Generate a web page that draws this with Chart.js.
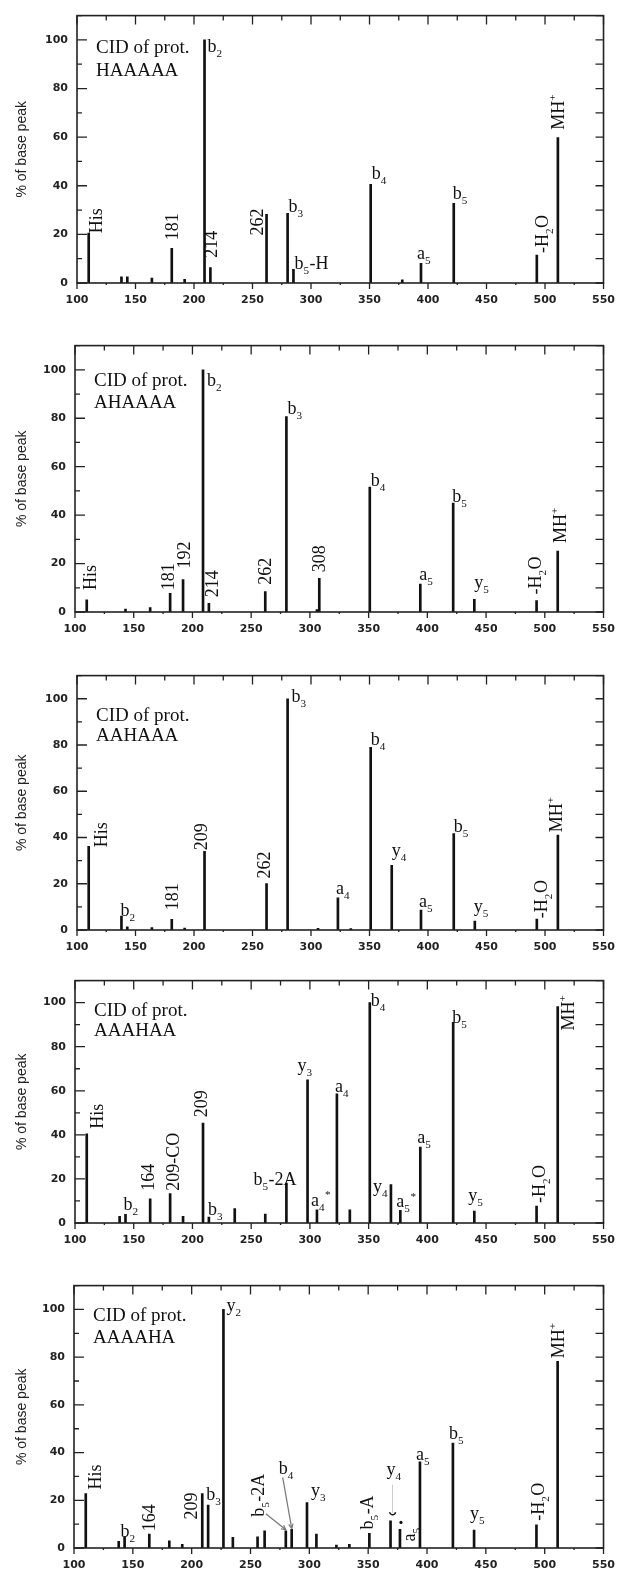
<!DOCTYPE html>
<html>
<head>
<meta charset="utf-8">
<script src="https://cdn.jsdelivr.net/npm/chart.js@4.4.1/dist/chart.umd.min.js"></script>
<style>
  body { margin: 0; background: #fff; width: 626px; height: 1574px; position: relative; overflow: hidden; }
  canvas { position: absolute; left: 0; }
</style>
</head>
<body>
<canvas id="p1"></canvas>
<canvas id="p2"></canvas>
<canvas id="p3"></canvas>
<canvas id="p4"></canvas>
<canvas id="p5"></canvas>
<script>
// ---- data: m/z and % of base peak for each spectrum ----
const sequences = ['HAAAAA', 'AHAAAA', 'AAHAAA', 'AAAHAA', 'AAAAHA'];

const mz1  = [110, 138, 143, 164, 181, 192, 209, 214, 262, 280, 285, 351, 378, 394, 422, 493, 511];
const int1 = [20.5, 2.5, 2.5, 2, 14.3, 1.5, 100, 6.3, 28.2, 28.7, 5.6, 40.6, 1.3, 8.1, 32.8, 11.5, 59.8];

const mz2  = [110, 143, 164, 181, 192, 209, 214, 262, 280, 306, 308, 351, 394, 422, 440, 493, 511];
const int2 = [5, 1.2, 1.8, 7.7, 13.4, 100, 3.6, 8.4, 80.7, 1, 13.9, 51.6, 11.5, 45, 5.2, 4.7, 25.2];

const mz3  = [110, 138, 143, 164, 181, 192, 209, 262, 280, 306, 323, 334, 351, 369, 394, 422, 440, 493, 511];
const int3 = [36.2, 6, 1.4, 1, 4.6, 0.8, 34, 20.1, 100, 0.7, 13.9, 0.6, 79, 28, 8.6, 41.7, 3.9, 4.7, 41];

const mz4  = [110, 138, 143, 164, 181, 192, 209, 214, 236, 262, 280, 298, 306, 323, 334, 351, 369, 377, 394, 422, 440, 493, 511];
const int4 = [40.5, 3, 3.9, 11, 13.3, 3, 45.3, 2.7, 6.5, 4, 18.1, 65, 6, 58.6, 6, 100, 17.4, 5.8, 34.4, 91.1, 5.4, 7.7, 98.2];

const mz5  = [110, 138, 143, 164, 181, 192, 209, 214, 227, 235, 256, 262, 280, 285, 298, 306, 323, 334, 351, 369, 377, 394, 422, 440, 493, 511];
const int5 = [22.8, 2.8, 4.7, 5.8, 3, 1.5, 22.8, 18, 100, 4.5, 4.7, 7.2, 7.2, 7.8, 19, 5.8, 1.2, 1.5, 6.1, 11.4, 7.8, 36.1, 44, 7.5, 9.7, 78.3];

// ---- peak annotations: [m/z, text, h|v, nudge x, nudge y]  (_ = subscript, ^ = superscript)
const notes1 = [
  [110, 'His', 'v', 7, 0], [181, '181', 'v', 0, -8], [209, 'b_2', 'h', 3, 12],
  [214, '214', 'v', 1, -10], [262, '262', 'v', -9, 21], [280, 'b_3', 'h', 1, -1],
  [285, 'b_5-H', 'h', 1, 0], [351, 'b_4', 'h', 1, -5], [394, 'a_5', 'h', -4, -4],
  [422, 'b_5', 'h', -1, -4], [493, '-H_2O', 'v', 5, -2], [511, 'MH^+', 'v', 0, -8]
];
const notes2 = [
  [110, 'His', 'v', 3, -10], [181, '181', 'v', -2, -3], [192, '192', 'v', 1, -11],
  [209, 'b_2', 'h', 4, 16], [214, '214', 'v', 3, -6], [262, '262', 'v', 0, -7],
  [280, 'b_3', 'h', 1, -3], [308, '308', 'v', 0, -6], [351, 'b_4', 'h', 1, -1],
  [394, 'a_5', 'h', -1, -4], [422, 'b_5', 'h', -1, -1], [440, 'y_5', 'h', 0, -11],
  [493, '-H_2O', 'v', -2, -6], [511, 'MH^+', 'v', 2, -8]
];
const notes3 = [
  [110, 'His', 'v', 12, 1], [138, 'b_2', 'h', -1, 0], [181, '181', 'v', 0, -9],
  [209, '209', 'v', -3, -1], [262, '262', 'v', -2, -5], [280, 'b_3', 'h', 4, 3],
  [323, 'a_4', 'h', -2, -4], [351, 'b_4', 'h', 0, -2], [369, 'y_4', 'h', 0, -9],
  [394, 'a_5', 'h', -2, -3], [422, 'b_5', 'h', 0, -2], [440, 'y_5', 'h', -1, -9],
  [493, '-H_2O', 'v', 4, -1], [511, 'MH^+', 'v', -2, -3]
];
const notes4 = [
  [110, 'His', 'v', 10, -5], [143, 'b_2', 'h', -2, -4], [164, '164', 'v', -2, -8],
  [181, '209-CO', 'v', 3, -3], [209, '209', 'v', -2, -6], [214, 'b_3', 'h', -1, -2],
  [280, 'b_5-2A', 'h', -33, 2], [298, 'y_3', 'h', -10, -9], [306, 'a_4^*', 'h', -6, -4],
  [323, 'a_4', 'h', -2, -2], [351, 'b_4', 'h', 1, 3], [369, 'y_4', 'h', -18, 7],
  [377, 'a_5^*', 'h', -4, -3], [394, 'a_5', 'h', -3, -4], [422, 'b_5', 'h', -1, 1],
  [440, 'y_5', 'h', -6, -10], [493, '-H_2O', 'v', 2, -3], [511, 'MH^+', 'v', 10, 24]
];
const notes5 = [
  [110, 'His', 'v', 9, -4], [143, 'b_2', 'h', -4, 0], [164, '164', 'v', 0, -3],
  [209, '209', 'v', -11, 26], [214, 'b_3', 'h', -2, -5], [227, 'y_2', 'h', 3, 2],
  [280, 'b_5-2A', 'v', -28, -14], [285, 'b_4', 'h', -13, -55], [298, 'y_3', 'h', 4, -7],
  [351, 'b_5-A', 'v', -2, -4], [369, 'y_4', 'h', -4, -46], [377, 'a_5', 'v', 9, 12],
  [394, 'a_5', 'h', -4, -2], [422, 'b_5', 'h', -4, -4], [440, 'y_5', 'h', -4, -11],
  [493, '-H_2O', 'v', 2, -4], [511, 'MH^+', 'v', 0, -3]
];
// leader arrows / marks in the last spectrum (offsets from the peak top)
const marks5 = [
  { mz: 280, kind: 'arrow', from: [-20, -17] },
  { mz: 285, kind: 'arrow', from: [-9, -52] },
  { mz: 369, kind: 'guide', from: [2, -36] },
  { mz: 377, kind: 'dot' }
];

// ---- panel boxes on the page ----
const boxes = [
  { top: 0,    h: 315, left: 77, right: 609, title: [37, 60] },
  { top: 330,  h: 314, left: 75, right: 612, title: [40, 62] },
  { top: 660,  h: 302, left: 77, right: 614, title: [45, 65] },
  { top: 965,  h: 290, left: 75, right: 612, title: [35, 55] },
  { top: 1270, h: 310, left: 74, right: 611, title: [35, 57] }
];

const SERIF = '"Liberation Serif", "Times New Roman", serif';
const INK = '#111';

function parseRich(s) {
  const out = [];
  let buf = '';
  for (let i = 0; i < s.length; i++) {
    const c = s[i];
    if (c === '_' || c === '^') {
      if (buf) out.push({ t: buf, m: 0 });
      buf = '';
      out.push({ t: s[i + 1], m: c === '_' ? 1 : 2 });
      i++;
    } else {
      buf += c;
    }
  }
  if (buf) out.push({ t: buf, m: 0 });
  return out;
}

function drawRich(ctx, s, x, y, size) {
  for (const p of parseRich(s)) {
    const fs = p.m ? size * 0.62 : size;
    ctx.font = fs + 'px ' + SERIF;
    const dy = p.m === 1 ? size * 0.28 : p.m === 2 ? -size * 0.42 : 0;
    ctx.fillText(p.t, x, y + dy);
    x += ctx.measureText(p.t).width + (p.m ? 0.5 : 0);
  }
}

const frameTicks = {
  id: 'frameTicks',
  afterDatasetsDraw(chart) {
    const { ctx, chartArea: a, scales: { x, y } } = chart;
    ctx.save();
    ctx.strokeStyle = '#222';
    ctx.lineWidth = 1.6;
    ctx.strokeRect(a.left, a.top, a.right - a.left, a.bottom - a.top);
    ctx.lineWidth = 1.3;
    ctx.beginPath();
    for (let v = 100; v <= 550; v += 25) {
      const px = x.getPixelForValue(v);
      const major = v % 50 === 0;
      // bottom: ticks hang below the axis, top: ticks point inward
      ctx.moveTo(px, a.bottom); ctx.lineTo(px, a.bottom + (major ? 6 : 2));
      ctx.moveTo(px, a.top); ctx.lineTo(px, a.top + (major ? 9 : 5));
    }
    for (let v = 0; v <= 110; v += 10) {
      const py = y.getPixelForValue(v);
      const len = v % 20 === 0 ? 10 : 5;
      ctx.moveTo(a.left, py); ctx.lineTo(a.left + len, py);
      ctx.moveTo(a.right, py); ctx.lineTo(a.right - 8, py);
    }
    ctx.stroke();
    ctx.restore();
  }
};

const peakNotes = {
  id: 'peakNotes',
  afterDatasetsDraw(chart, args, opts) {
    const { ctx, chartArea: a, scales: { x, y } } = chart;
    const pts = chart.data.datasets[0].data;
    const topOf = (m) => {
      const p = pts.find(d => d.x === m);
      return { px: x.getPixelForValue(m), py: y.getPixelForValue(p ? p.y : 0) };
    };
    const size = 18;
    ctx.save();
    ctx.fillStyle = INK;
    ctx.textBaseline = 'alphabetic';
    ctx.textAlign = 'left';

    // sample title
    ctx.font = '19px ' + SERIF;
    ctx.fillText('CID of prot.', a.left + 19, a.top + opts.title[0]);
    ctx.fillText(opts.seq, a.left + 19, a.top + opts.title[1]);

    for (const [m, text, kind, dx, dy] of opts.notes) {
      const { px, py } = topOf(m);
      if (kind === 'h') {
        drawRich(ctx, text, px + dx, py + dy, size);
      } else {
        ctx.save();
        ctx.translate(px + dx, py + dy);
        ctx.rotate(-Math.PI / 2);
        drawRich(ctx, text, 0, size * 0.33, size);
        ctx.restore();
      }
    }

    for (const mk of (opts.marks || [])) {
      const { px, py } = topOf(mk.mz);
      if (mk.kind === 'arrow') {
        const x0 = px + mk.from[0], y0 = py + mk.from[1];
        const x1 = px, y1 = py - 1;
        ctx.strokeStyle = '#777';
        ctx.lineWidth = 1.2;
        ctx.beginPath(); ctx.moveTo(x0, y0); ctx.lineTo(x1, y1); ctx.stroke();
        const ang = Math.atan2(y1 - y0, x1 - x0);
        ctx.beginPath();
        ctx.moveTo(x1 - 5 * Math.cos(ang - 0.45), y1 - 5 * Math.sin(ang - 0.45));
        ctx.lineTo(x1, y1);
        ctx.lineTo(x1 - 5 * Math.cos(ang + 0.45), y1 - 5 * Math.sin(ang + 0.45));
        ctx.stroke();
      } else if (mk.kind === 'guide') {
        ctx.strokeStyle = '#ccc';
        ctx.lineWidth = 1;
        ctx.beginPath(); ctx.moveTo(px + mk.from[0], py + mk.from[1]); ctx.lineTo(px + mk.from[0], py - 8); ctx.stroke();
        ctx.strokeStyle = INK;
        ctx.lineWidth = 1.6;
        ctx.beginPath(); ctx.arc(px + mk.from[0], py - 9, 3, 0.15, Math.PI - 0.15); ctx.stroke();
      } else if (mk.kind === 'dot') {
        ctx.beginPath(); ctx.arc(px + 1, py - 7, 1.6, 0, Math.PI * 2); ctx.fill();
      }
    }
    ctx.restore();
  }
};

function makePanel(id, mz, inten, notes, seq, box, marks) {
  const el = document.getElementById(id);
  el.width = 626;
  el.height = box.h;
  el.style.top = box.top + 'px';
  const tickFont = { family: '"DejaVu Sans", sans-serif', size: 11, weight: 'bold' };
  return new Chart(el, {
    type: 'bar',
    data: {
      datasets: [{
        data: mz.map((m, i) => ({ x: m, y: inten[i] })),
        backgroundColor: INK,
        borderWidth: 0,
        barThickness: 2,
        grouped: false
      }]
    },
    options: {
      responsive: false,
      animation: false,
      devicePixelRatio: 1,
      layout: { padding: { top: 15, right: 626 - box.right, bottom: 0, left: 0 } },
      plugins: {
        legend: { display: false },
        tooltip: { enabled: false },
        peakNotes: { notes: notes, seq: seq, title: box.title, marks: marks }
      },
      scales: {
        x: {
          type: 'linear', min: 100, max: 550, offset: false,
          grid: { display: false, drawTicks: false, offset: false },
          border: { display: false },
          ticks: { stepSize: 50, padding: 11, color: '#222', font: tickFont, maxRotation: 0, autoSkip: false },
          afterFit(s) { s.height = 32; }
        },
        y: {
          min: 0, max: 110,
          grid: { display: false, drawTicks: false },
          border: { display: false },
          ticks: { stepSize: 20, includeBounds: false, padding: 9, color: '#222', font: tickFont },
          title: {
            display: true, text: '% of base peak', color: '#222',
            font: { family: '"Liberation Sans", Arial, sans-serif', size: 14 },
            padding: { top: 14, bottom: 0 }
          },
          afterFit(s) { s.width = box.left; }
        }
      }
    },
    plugins: [frameTicks, peakNotes]
  });
}

makePanel('p1', mz1, int1, notes1, sequences[0], boxes[0]);
makePanel('p2', mz2, int2, notes2, sequences[1], boxes[1]);
makePanel('p3', mz3, int3, notes3, sequences[2], boxes[2]);
makePanel('p4', mz4, int4, notes4, sequences[3], boxes[3]);
makePanel('p5', mz5, int5, notes5, sequences[4], boxes[4], marks5);
</script>
</body>
</html>
